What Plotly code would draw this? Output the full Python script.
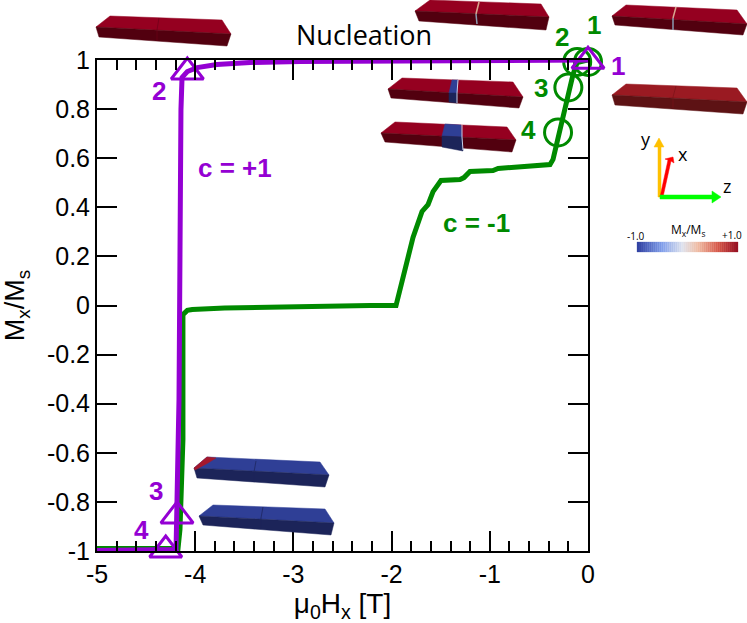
import plotly.graph_objects as go

W, H = 747, 623
L, R, T, B = 97, 588, 60, 551

# c = +1 branch
purple_h = [0, -1.91, -2.93, -3.44, -3.78, -3.98, -4.08, -4.134, -4.145, -4.165, -4.185, -4.195, -5]
purple_m = [1.0, 0.998, 0.994, 0.99, 0.982, 0.969, 0.953, 0.929, 0.798, -0.383, -0.912, -0.994, -0.998]
# c = -1 branch
green_h = [0, -0.11, -0.153, -0.356, -0.387, -0.621, -0.916, -0.967, -1.202, -1.263, -1.303, -1.497, -1.578, -1.629, -1.69, -1.782, -1.864, -1.914, -1.955, -2.22,
           -3.0, -3.7, -4.03, -4.08, -4.125, -4.125, -4.155, -4.175, -5]
green_m = [1.0, 0.99, 0.94, 0.595, 0.574, 0.566, 0.558, 0.55, 0.546, 0.521, 0.513, 0.509, 0.464, 0.411, 0.383, 0.277, 0.155, 0.065, 0.0, 0.0,
           -0.004, -0.01, -0.016, -0.02, -0.037, -0.546, -0.912, -0.99, -0.99]
# open markers
tri_h = [0, -4.08, -4.185, -4.30]
tri_m = [0.995, 0.951, -0.857, -0.996]
circ_h = [0, -0.11, -0.2, -0.305]
circ_m = [0.992, 0.992, 0.888, 0.705]

x_ticks = [-5, -4, -3, -2, -1, 0]
y_ticks = [-1, -0.8, -0.6, -0.4, -0.2, 0, 0.2, 0.4, 0.6, 0.8, 1]
y_tick_labels = ["-1", "-0.8", "-0.6", "-0.4", "-0.2", "0", "0.2", "0.4", "0.6", "0.8", "1"]

PURPLE = "#9400d3"
GREEN = "#008a00"
FONT = "Liberation Sans"


def px(x):
    return (x - L) / (R - L)


def py(y):
    return (B - y) / (B - T)


def poly(points, fill, line=None, width=0.5):
    path = "M " + " L ".join(f"{px(x):.5f},{py(y):.5f}" for x, y in points) + " Z"
    return dict(type="path", xref="paper", yref="paper", path=path, fillcolor=fill,
                line=dict(color=line or fill, width=width), layer="above")


def seg(points, color, width=1):
    path = "M " + " L ".join(f"{px(x):.5f},{py(y):.5f}" for x, y in points)
    return dict(type="path", xref="paper", yref="paper", path=path,
                line=dict(color=color, width=width), layer="above")


def block(a, b, c, d, e, f, top, front):
    return [poly([a, b, c, d], top), poly([a, d, e, f], front)]


RED_T, RED_F = "#950020", "#52000f"
BLUE_T, BLUE_F = "#2f3f96", "#1c2459"

shapes = []
shapes += block((96, 27), (110, 16), (222, 20), (231, 34), (227, 46), (99, 37), RED_T, RED_F)
shapes += [seg([(159, 18), (157, 30), (157, 41)], "#6d0018", 0.7)]
shapes += block((415, 11), (430, 0), (541, 4), (549, 17), (546, 30), (419, 21), RED_T, RED_F)
shapes += [seg([(479, 2), (476, 14)], "#d8a58f", 1.5), seg([(476, 14), (477, 24)], "#8a9ab0", 1.5)]
shapes += block((612, 16), (626, 5), (737, 10), (747, 24), (743, 35), (615, 25), RED_T, RED_F)
shapes += [seg([(676, 7), (673, 18)], "#d8a58f", 1.5), seg([(673, 18), (673, 30)], "#8a9ab0", 1.5)]
shapes += block((612, 95), (626, 84), (737, 88), (747, 102), (743, 114), (615, 105), "#9a1a22", "#5d1214")
shapes += [seg([(676, 86), (673, 97), (673, 108)], "#7a1218", 0.7)]
# narrow reversed domain
shapes += block((388, 89), (402, 78), (513, 82), (523, 97), (519, 108), (391, 98), RED_T, RED_F)
shapes += [poly([(452, 80), (458, 80), (457, 93), (449, 93)], BLUE_T), poly([(449, 93), (457, 93), (457, 103), (449, 102)], BLUE_F),
           seg([(458, 80), (457, 93), (457, 103)], "#c8d0e8", 1)]
# wider reversed domain
shapes += block((381, 133), (395, 122), (507, 127), (516, 140), (512, 152), (385, 142), RED_T, RED_F)
shapes += [poly([(445, 124), (461, 125), (462, 137), (442, 136)], BLUE_T), poly([(442, 136), (462, 137), (463, 151), (442, 147)], BLUE_F),
           seg([(462, 125), (462, 137), (463, 150)], "#c8d0e8", 1)]
# blue blocks
shapes += block((194, 468), (207, 457), (320, 462), (329, 475), (325, 487), (197, 478), BLUE_T, BLUE_F)
shapes += [poly([(194, 468), (207, 457), (216, 458), (208, 463), (195, 470)], "#a5182c"),
           seg([(256, 461), (254, 472), (254, 482)], "#1c2459", 0.7)]
shapes += block((199, 516), (213, 505), (325, 509), (334, 523), (331, 535), (203, 525), BLUE_T, BLUE_F)
shapes += [seg([(263, 507), (261, 518), (261, 529)], "#1c2459", 0.7)]

# orientation triad
shapes += [
    poly([(658, 197), (658, 147), (654, 147), (659, 138), (664, 147), (661, 147), (661, 197)], "#ffc000"),
    poly([(660, 197), (668, 160), (665, 159), (673, 157), (674, 163), (671, 161), (663, 197)], "#ff0000"),
    poly([(660, 195), (712, 195), (712, 191), (721, 197), (712, 203), (712, 199), (660, 199)], "#00ff00"),
]

# colour bar
stops = [(0.0, (47, 63, 160)), (0.25, (130, 160, 235)), (0.45, (222, 226, 238)), (0.6, (240, 190, 165)),
         (0.8, (215, 90, 75)), (1.0, (150, 15, 35))]
x0, x1 = 637, 738
n = 50
for i in range(n):
    t = (i + 0.5) / n
    for (a, ca), (b, cb) in zip(stops, stops[1:]):
        if a <= t <= b:
            u = (t - a) / (b - a)
            c = tuple(round(p + (q - p) * u) for p, q in zip(ca, cb))
            break
    xa = x0 + (x1 - x0) * i / n
    xb = x0 + (x1 - x0) * (i + 1) / n
    shapes.append(poly([(xa, 242), (xb, 242), (xb, 252), (xa, 252)], f"rgb{c}", width=0.3))


def label(x, y, text, color="black", size=24, bold=False, family=FONT):
    t = f"<b>{text}</b>" if bold else text
    return dict(x=px(x), y=py(y), xref="paper", yref="paper", text=t, showarrow=False,
                xanchor="center", yanchor="middle", font=dict(color=color, size=size, family=family))


annotations = [
    label(364, 35, "Nucleation", size=27, family="Open Sans"),
    label(235, 168, "c = +1", PURPLE, 26, True),
    label(476, 223, "c = -1", GREEN, 26, True),
    label(594, 25, "1", GREEN, 26, True),
    label(562, 37, "2", GREEN, 26, True),
    label(541, 88, "3", GREEN, 26, True),
    label(528, 130, "4", GREEN, 26, True),
    label(618, 66, "1", PURPLE, 26, True),
    label(159, 91, "2", PURPLE, 26, True),
    label(156, 491, "3", PURPLE, 26, True),
    label(141, 530, "4", PURPLE, 26, True),
    label(646, 139, "y", size=18, family="Open Sans"),
    label(683, 154, "x", size=18, family="Open Sans"),
    label(727, 186, "z", size=18, family="Open Sans"),
    label(636, 236, "-1.0", size=10, family="Open Sans"),
    label(732, 235, "+1.0", size=10, family="Open Sans"),
    label(688, 230, "M<sub>x</sub>/M<sub>s</sub>", size=12, family="Open Sans"),
]

fig = go.Figure()
fig.add_trace(go.Scatter(x=green_h, y=green_m, mode="lines", line=dict(color=GREEN, width=5), cliponaxis=False))
fig.add_trace(go.Scatter(x=circ_h, y=circ_m, mode="markers", cliponaxis=False,
                         marker=dict(symbol="circle-open", size=27, color=GREEN, line=dict(color=GREEN, width=3))))
fig.add_trace(go.Scatter(x=purple_h, y=purple_m, mode="lines", line=dict(color=PURPLE, width=5), cliponaxis=False))
fig.add_trace(go.Scatter(x=tri_h, y=tri_m, mode="markers", cliponaxis=False,
                         marker=dict(symbol="triangle-up-open", size=28, color=PURPLE, line=dict(color=PURPLE, width=3))))

axis_common = dict(showgrid=False, zeroline=False, showline=True, linecolor="black", linewidth=2, mirror="ticks",
                   ticks="inside", ticklen=20, tickwidth=1.5, tickcolor="black",
                   tickfont=dict(family=FONT, size=25, color="black"))
fig.update_xaxes(range=[-5, 0], tickmode="array", tickvals=x_ticks, ticktext=[str(v) for v in x_ticks],
                 minor=dict(tickmode="linear", tick0=0, dtick=0.2, ticks="inside", ticklen=10, tickwidth=1.5,
                            tickcolor="black", showgrid=False),
                 title=dict(text="μ<sub>0</sub>H<sub>x</sub> [T]", font=dict(family=FONT, size=28, color="black"), standoff=2),
                 **axis_common)
fig.update_yaxes(range=[-1, 1], tickmode="array", tickvals=y_ticks, ticktext=y_tick_labels,
                 title=dict(text="M<sub>x</sub>/M<sub>s</sub>", font=dict(family=FONT, size=27, color="black"), standoff=14),
                 **axis_common)
fig.update_layout(width=W, height=H, autosize=False, showlegend=False, plot_bgcolor="white", paper_bgcolor="white",
                  margin=dict(l=L, r=W - R, t=T, b=H - B), shapes=shapes, annotations=annotations)
fig.write_html("out.html", config=dict(displayModeBar=False),
               post_script="document.body.style.margin='0';document.documentElement.style.overflow='hidden';")
